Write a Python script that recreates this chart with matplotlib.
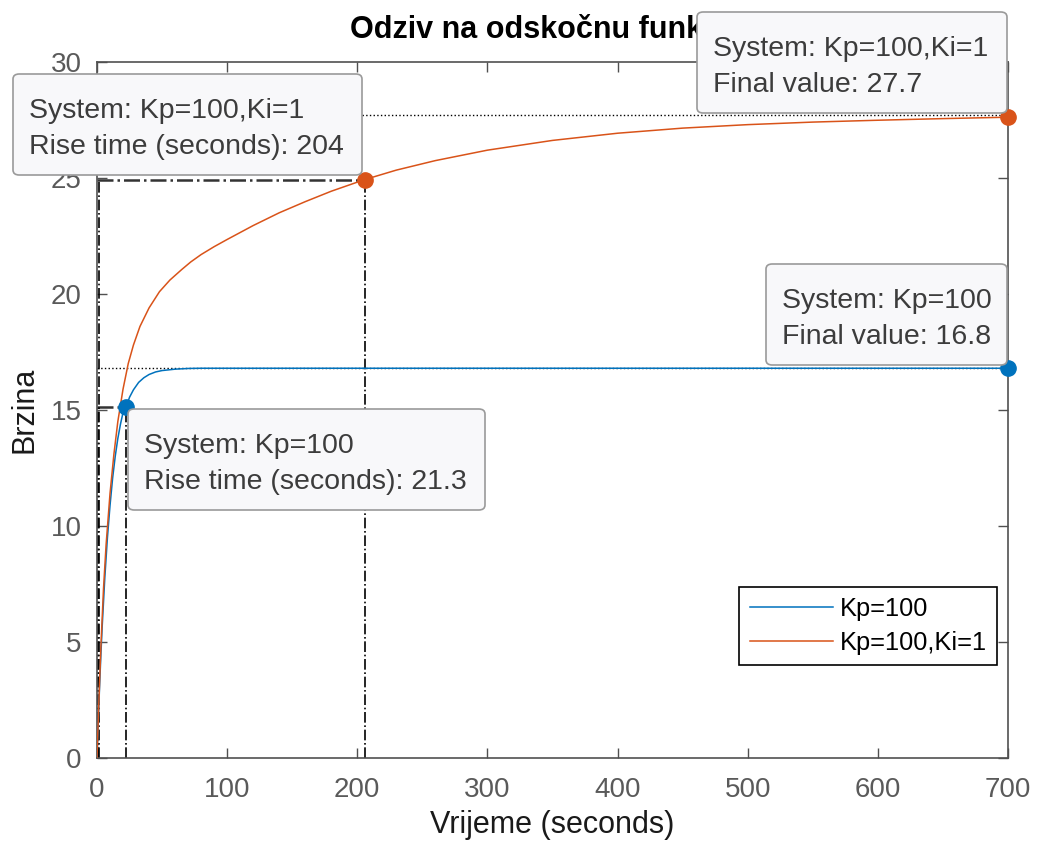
import matplotlib.pyplot as plt
from matplotlib.patches import FancyBboxPatch

# step response, Kp=100
t_kp = [0, 1, 2, 3, 4, 6, 8, 10, 12, 14, 16, 18, 20, 22.3, 25, 28, 32, 36, 40, 45, 50, 60, 70, 80, 700]
y_kp = [0, 1.65, 3.13, 4.47, 5.68, 7.77, 9.49, 10.88, 12.06, 13.0, 13.77, 14.38, 14.89, 15.12,
        15.55, 15.87, 16.19, 16.39, 16.53, 16.64, 16.70, 16.76, 16.79, 16.8, 16.8]

# step response, Kp=100, Ki=1
t_pi = [0, 1, 2, 3, 5, 7, 10, 13, 16, 20, 24, 28, 33, 40, 48, 56, 65, 72, 80, 90, 100, 120, 140,
        160, 180, 205.6, 230, 260, 300, 350, 400, 450, 500, 550, 600, 650, 700]
y_pi = [0, 1.7, 3.3, 4.8, 7.3, 9.2, 11.4, 13.1, 14.5, 15.9, 17.0, 17.8, 18.6, 19.4, 20.1, 20.6,
        21.05, 21.38, 21.7, 22.04, 22.35, 22.95, 23.5, 23.98, 24.43, 24.93, 25.34, 25.75, 26.2,
        26.62, 26.93, 27.15, 27.3, 27.41, 27.49, 27.56, 27.62]

labels = ['Kp=100', 'Kp=100,Ki=1']

# characteristics (datatips)
final_kp, final_pi = 16.8, 27.7
rise_kp, rise_pi = 21.3, 204
t10_kp, t90_kp, y90_kp = 1.0, 22.3, 15.12
t10_pi, t90_pi, y90_pi = 1.6, 205.6, 24.93
t_end = 700

blue = '#0072BD'
orange = '#D95319'
W, H = 1038, 843

plt.rcParams['font.family'] = ['Liberation Sans', 'DejaVu Sans']

fig = plt.figure(figsize=(W / 100, H / 100), dpi=100)
ax = fig.add_axes([97 / W, 1 - 758 / H, 911 / W, 696 / H])

ax.plot(t_kp, y_kp, color=blue, lw=1.1, label=labels[0], zorder=3)
ax.plot(t_pi, y_pi, color=orange, lw=1.1, label=labels[1], zorder=3)

# final value lines
ax.plot([0, t_end], [final_kp, final_kp], color='black', ls=':', lw=1, zorder=2)
ax.plot([0, t_end], [final_pi, final_pi], color='black', ls=':', lw=1, zorder=2)

# rise time lines
for t10, t90, y90 in [(t10_kp, t90_kp, y90_kp), (t10_pi, t90_pi, y90_pi)]:
    ax.plot([t10, t10], [0, y90], color='black', ls='-.', lw=1.2, zorder=2)
    ax.plot([t90, t90], [0, y90], color='black', ls='-.', lw=1.2, zorder=2)
    ax.plot([0, t90], [y90, y90], color='#333333', ls='-.', lw=1.8, zorder=2)

# datatip markers
ax.plot([t90_kp], [y90_kp], 'o', color=blue, ms=11, zorder=5, clip_on=False)
ax.plot([t90_pi], [y90_pi], 'o', color=orange, ms=11, zorder=5, clip_on=False)
ax.plot([t_end], [y_kp[-1]], 'o', color=blue, ms=11, zorder=5, clip_on=False)
ax.plot([t_end], [y_pi[-1]], 'o', color=orange, ms=11, zorder=5, clip_on=False)

ax.set_xlim(0, 700)
ax.set_ylim(0, 30)
ax.set_xticks(range(0, 701, 100))
ax.set_yticks(range(0, 31, 5))
for s in ax.spines.values():
    s.set_color('#505050')
    s.set_linewidth(1.2)
ax.tick_params(direction='in', top=True, right=True, length=7, width=1,
               color='#505050', labelcolor='#5a5a5a', labelsize=20)
ax.tick_params(axis='x', pad=14)
ax.tick_params(axis='y', pad=11)

ax.set_xlabel('Vrijeme (seconds)', fontsize=22, color='#1a1a1a', labelpad=5)
ax.set_ylabel('Brzina', fontsize=22, color='#1a1a1a', labelpad=8)
ax.set_title('Odziv na odskočnu funkciju', fontsize=22, fontweight='bold', pad=17)

leg = ax.legend(loc='upper right', bbox_to_anchor=(0.988, 0.2457), fontsize=18.3,
                handlelength=3.3, handletextpad=0.25, labelspacing=0.4,
                borderpad=0.4, borderaxespad=0, fancybox=False, framealpha=1)
leg.get_frame().set_edgecolor('black')
leg.get_frame().set_linewidth(1.2)


def tip(left, top, right, bottom, lines):
    # box drawn in figure pixels, text lines at fixed baselines
    box = FancyBboxPatch((left / W, 1 - bottom / H), (right - left) / W, (bottom - top) / H,
                         boxstyle='round,pad=0,rounding_size=0.006', transform=fig.transFigure,
                         facecolor='#f8f8fa', edgecolor='#9a9a9a', linewidth=1.2, zorder=9)
    fig.patches.append(box)
    for i, line in enumerate(lines):
        fig.text((left + 16) / W, 1 - (top + 44 + 36 * i) / H, line, ha='left', va='baseline',
                 fontsize=20.5, color='#3c3c3c', zorder=10)


tip(13, 74, 362, 175, [f'System: {labels[1]}', f'Rise time (seconds): {rise_pi}'])
tip(697, 12, 1007, 113, [f'System: {labels[1]}', f'Final value: {final_pi}'])
tip(766, 264, 1007, 365, [f'System: {labels[0]}', f'Final value: {final_kp}'])
tip(128, 409, 485, 510, [f'System: {labels[0]}', f'Rise time (seconds): {rise_kp}'])

fig.savefig('out.png', dpi=100)
